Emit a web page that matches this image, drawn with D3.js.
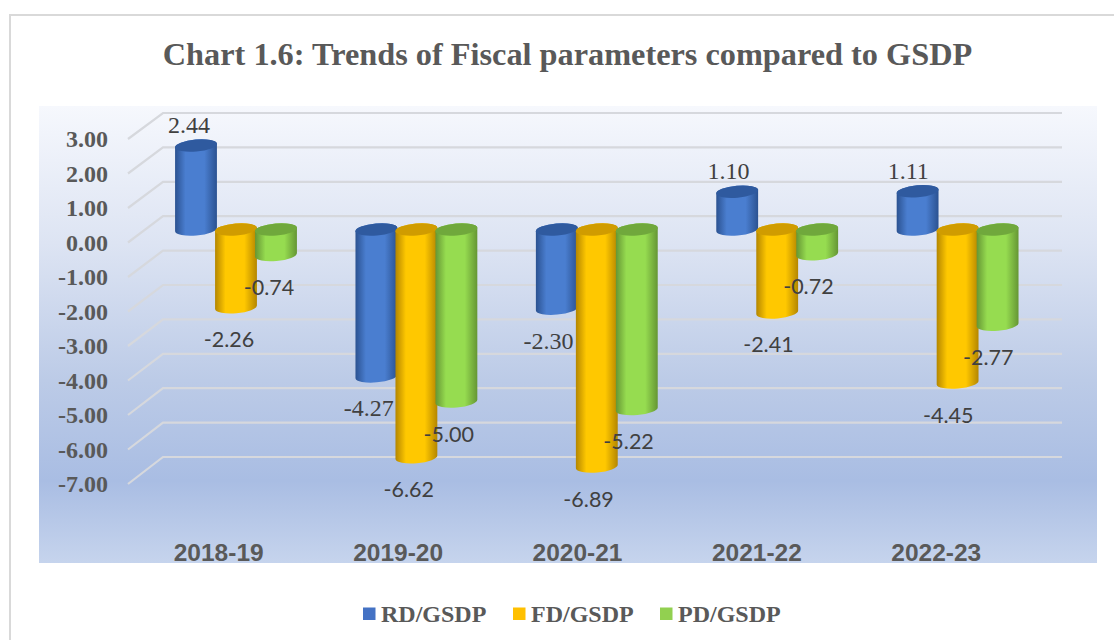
<!DOCTYPE html>
<html><head><meta charset="utf-8">
<script src="https://cdn.jsdelivr.net/npm/d3@7/dist/d3.min.js"></script>
<style>html,body{margin:0;padding:0;background:#fff}svg{display:block}</style>
</head><body><svg id="c" width="1114" height="640"></svg>
<script>
const titleText = "Chart 1.6: Trends of Fiscal parameters compared to GSDP";
const categories = ["2018-19","2019-20","2020-21","2021-22","2022-23"];
const seriesNames = ["RD/GSDP","FD/GSDP","PD/GSDP"];
const rd = [2.44,-4.27,-2.30,1.10,1.11];
const fd = [-2.26,-6.62,-6.89,-2.41,-4.45];
const pd = [-0.74,-5.00,-5.22,-0.72,-2.77];
const tickValues = [3,2,1,0,-1,-2,-3,-4,-5,-6,-7];
const seriesValues = [rd,fd,pd];
const palettes = [
  {edge:"#2b5291",mid:"#4a7ed0",cap:"#2f5a9f"},
  {edge:"#b48600",mid:"#ffc800",cap:"#d09c00"},
  {edge:"#659634",mid:"#96dc50",cap:"#70a83c"}
];
const swatch = ["#4472c4","#ffc000","#92d050"];

const svg = d3.select("#c");
const defs = svg.append("defs");
const bg = defs.append("linearGradient").attr("id","bg").attr("x1",0).attr("x2",0).attr("y1",0).attr("y2",1);
[[0,"#f6f8fd"],[0.3,"#dde4f3"],[0.6,"#bccbe7"],[0.82,"#a9bde3"],[1,"#c6d4ed"]].forEach(([o,c])=>bg.append("stop").attr("offset",o).attr("stop-color",c));
palettes.forEach((p,i)=>{
  const g = defs.append("linearGradient").attr("id","cyl"+i).attr("x1",0).attr("x2",1).attr("y1",0).attr("y2",0);
  [[0,p.edge],[0.25,p.mid],[0.7,p.mid],[1,p.edge]].forEach(([o,c])=>g.append("stop").attr("offset",o).attr("stop-color",c));
});

// frame
svg.append("path").attr("d","M10,640V15H1114").attr("fill","none").attr("stroke","#d9d9d9").attr("stroke-width",2);
svg.append("rect").attr("x",39).attr("y",106).attr("width",1058).attr("height",457).attr("fill","url(#bg)");

// title
svg.append("text").attr("x",567.5).attr("y",65).attr("text-anchor","middle")
  .attr("font-family","Liberation Serif").attr("font-weight","bold").attr("font-size",32.3)
  .attr("fill","#595959").text(titleText);

// scales
const yFront = d3.scaleLinear().domain([3,-7]).range([139,484]);
const yBack = d3.scaleLinear().domain([3,-7]).range([113,457]);
const yBar = d3.scaleLinear().domain([0,-1]).range([229.5,263.9]);
const xLabel = d3.scaleBand().domain(categories).range([129,1026]);
const xValue = d3.scaleBand().domain(categories).range([123,1022]);
const x0 = d3.scaleBand().domain(categories).range([130,1032]);
const x1 = d3.scaleBand().domain(seriesNames).range([46,166]);

// grid
const grid = svg.append("g").attr("fill","none").attr("stroke","#d6d8dd").attr("stroke-width",2.2);
tickValues.forEach(v=>{
  grid.append("path").attr("d",`M128,${yFront(v)}L163,${yBack(v)}H1062`);
});

// y axis labels
svg.append("g").selectAll("text").data(tickValues).join("text")
  .attr("x",108).attr("y",d=>yFront(d)+8).attr("text-anchor","end")
  .attr("font-family","Liberation Serif").attr("font-weight","bold").attr("font-size",24)
  .attr("fill","#595959").text(d=>d.toFixed(2));

// category labels
svg.append("g").selectAll("text").data(categories).join("text")
  .attr("x",d=>xLabel(d)+xLabel.bandwidth()/2).attr("y",560.5).attr("text-anchor","middle")
  .attr("font-family","Liberation Sans").attr("font-weight","bold").attr("font-size",24.5)
  .attr("fill","#595959").text(d=>d);

// cylinders
const rx=21, ry=6, tilt=-5, rad=tilt*Math.PI/180, ex=rx*Math.cos(rad), ey=rx*Math.sin(rad);
const bars = svg.append("g");
const flat = [];
categories.forEach((c,i)=>seriesNames.forEach((s,j)=>flat.push({c,s,j,v:seriesValues[j][i]})));
flat.forEach(d=>{
  const cx = x0(d.c)+x1(d.s)+x1.bandwidth()/2;
  const t = yBar(Math.max(d.v,0)), b = yBar(Math.min(d.v,0));
  d.lx = xValue(d.c)+x1(d.s)+x1.bandwidth()/2;
  d.t=t; d.b=b;
  const arc=`A${rx},${ry} ${tilt} 0 0`;
  bars.append("path")
    .attr("d",`M${cx-ex},${t-ey}L${cx-ex},${b-ey}${arc} ${cx+ex},${b+ey}L${cx+ex},${t+ey}${arc} ${cx-ex},${t-ey}Z`)
    .attr("fill",`url(#cyl${d.j})`);
  bars.append("ellipse").attr("rx",rx).attr("ry",ry)
    .attr("transform",`translate(${cx},${t}) rotate(${tilt})`)
    .attr("fill",palettes[d.j].cap);
});

// value labels
svg.append("g").selectAll("text").data(flat).join("text")
  .attr("x",d=>d.lx)
  .attr("y",d=>d.v>=0? d.t-12.5 : d.b+40)
  .attr("text-anchor","middle")
  .attr("font-family",d=>(d.j===0?"Liberation Serif":"Lato"))
  .attr("font-size",d=>(d.j===0?24:21.5))
  .attr("fill","#404040").text(d=>d.v.toFixed(2));

// legend
const legendX = d3.scaleOrdinal().domain(seriesNames).range([363,513,660]);
const lg = svg.append("g").selectAll("g").data(seriesNames).join("g");
lg.append("rect").attr("x",d=>legendX(d)).attr("y",607.5).attr("width",12.5).attr("height",12.5)
  .attr("fill",(d,i)=>swatch[i]);
lg.append("text").attr("x",d=>legendX(d)+18).attr("y",622)
  .attr("font-family","Liberation Serif").attr("font-weight","bold").attr("font-size",24)
  .attr("fill","#595959").text(d=>d);
</script></body></html>
